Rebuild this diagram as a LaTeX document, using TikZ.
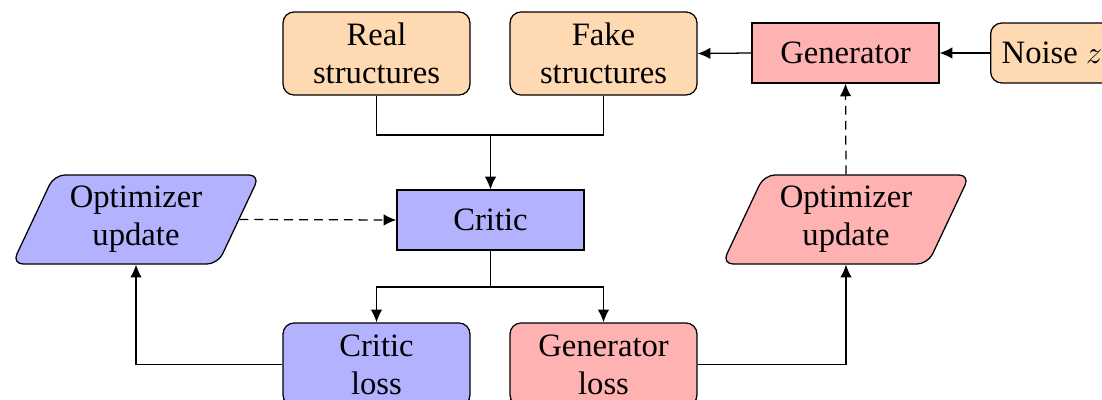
\documentclass[tikz,border=0pt]{standalone}
\usepackage{fontspec}
\setmainfont{Liberation Serif}
\usetikzlibrary{shapes.geometric,arrows.meta}

\begin{document}
\begin{tikzpicture}[x=0.3155pt,y=-0.3155pt,
  font=\fontsize{10.3}{12}\selectfont,
  box/.style={draw, align=center, minimum width=59pt, inner sep=2pt},
  tallbox/.style={box, rounded corners=3.5pt, minimum height=26.2pt},
  flatbox/.style={box, minimum height=18.9pt},
  parabox/.style={draw, trapezium, trapezium left angle=64, trapezium right angle=116,
    trapezium stretches=true, minimum width=78.2pt, minimum height=28.1pt,
    rounded corners=3.5pt, align=center, inner sep=1pt},
  conn/.style={-{Latex[length=4pt,width=3.6pt]}},
  dashconn/.style={conn, dash pattern=on 2.8pt off 1.9pt}]

\clip (0,0) rectangle (1102,400);
\useasboundingbox (0,0) rectangle (1102,400);

% data sources and generator
\node[tallbox, fill=orange!30] (real) at (376.5,53.5) {Real\\structures};
\node[tallbox, fill=orange!30] (fake) at (603.5,53.5) {Fake\\structures};
\node[flatbox, fill=red!30] (gen) at (845.5,53) {Generator};
\node[draw, rounded corners=3.5pt, fill=orange!30, anchor=west, minimum height=18.9pt,
      inner xsep=3.5pt] (noise) at (990,53) {Noise $z$};

% critic and optimizers
\node[flatbox, fill=blue!30] (critic) at (490.5,220) {Critic};
\node[parabox, fill=blue!30] (lopt) at (136,219.5) {Optimizer\\update};
\node[parabox, fill=red!30] (ropt) at (846,219.5) {Optimizer\\update};

% losses
\node[tallbox, fill=blue!30] (closs) at (376.5,364.5) {Critic\\loss};
\node[tallbox, fill=red!30] (gloss) at (603.5,364.5) {Generator\\loss};

% junction points
\coordinate (join) at (490.5,135);
\coordinate (split) at (490.5,287);

% connectors
\draw (real.south) |- (join) -| (fake.south);
\draw[conn] (join) -- (critic.north);
\draw (critic.south) -- (split);
\draw[conn] (split) -| (closs.north);
\draw[conn] (split) -| (gloss.north);
\draw[conn] (closs.west) -| (lopt.south);
\draw[conn] (gloss.east) -| (ropt.south);
\draw[dashconn] (lopt.east) -- (critic.west);
\draw[dashconn] (ropt.north) -- (gen.south);
\draw[conn] (gen.west) -- (fake.east);
\draw[conn] (noise.west) -- (gen.east);
\end{tikzpicture}
\end{document}
